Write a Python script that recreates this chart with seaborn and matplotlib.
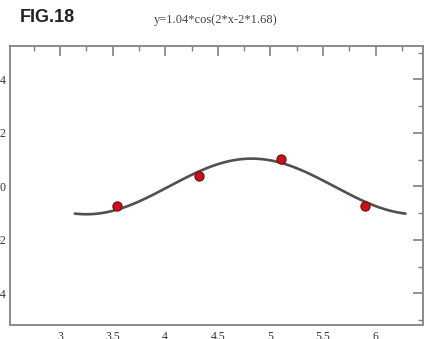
import numpy as np
import matplotlib
matplotlib.use("Agg")
import matplotlib.pyplot as plt
import seaborn as sns
import pandas as pd
from matplotlib.ticker import MultipleLocator, FuncFormatter

# Measured points (red dots)
point_x = [3.54, 4.32, 5.10, 5.90]
point_y = [-0.72, 0.38, 1.02, -0.72]

# Fit parameters, as printed in the title: y = A*cos(w*x - w*phi)
amp = 1.04
freq = 2.0
phase = 1.68
curve_start, curve_end = np.pi, 2 * np.pi

sns.set_theme(style="white")
plt.rcParams['font.family'] = ['Liberation Serif', 'DejaVu Serif']

xs = np.linspace(curve_start, curve_end, 300)
curve = pd.DataFrame({'x': xs, 'y': amp * np.cos(freq * xs - freq * phase)})
points = pd.DataFrame({'x': point_x, 'y': point_y})

fig = plt.figure(figsize=(4.25, 3.39), dpi=100)
ax = fig.add_axes([10 / 425, 1 - 325 / 339, 413 / 425, 279 / 339])

sns.lineplot(data=curve, x='x', y='y', ax=ax, color='#505050', linewidth=1.9)
sns.scatterplot(data=points, x='x', y='y', ax=ax, color='#c8101e',
                edgecolor='#7a0a10', linewidth=0.8, s=44, zorder=3)

ax.set_xlim(2.525, 6.45)
ax.set_ylim(-5.18, 5.25)
ax.set_xlabel('')
ax.set_ylabel('')

ax.xaxis.set_major_locator(MultipleLocator(0.5))
ax.xaxis.set_minor_locator(MultipleLocator(0.25))
ax.yaxis.set_major_locator(MultipleLocator(2))
ax.yaxis.set_minor_locator(MultipleLocator(1))
ax.xaxis.set_major_formatter(FuncFormatter(lambda v, p: f"{v:g}"))
ax.yaxis.set_major_formatter(FuncFormatter(lambda v, p: f"{v:g}"))

ax.tick_params(which='both', direction='in', top=True, right=True,
               color='#808080', labelsize=8.5, labelcolor='#333333')
ax.tick_params(which='major', length=7, width=1.2)
ax.tick_params(which='minor', length=3.5, width=1.0)
ax.tick_params(axis='y', pad=3)
ax.tick_params(axis='x', pad=4.5)

for sp in ax.spines.values():
    sp.set_color('#8a8a8a')
    sp.set_linewidth(1.4)

fig.text(20 / 425, 1 - 18 / 339, 'FIG.18', fontsize=13, fontweight='bold',
         family=['Liberation Sans', 'DejaVu Sans'], color='#222222', va='center', ha='left')
fig.text(216 / 425, 1 - 20 / 339, 'y=1.04*cos(2*x-2*1.68)', fontsize=9,
         color='#444444', va='center', ha='center')

plt.savefig('out.png', dpi=100)
plt.close()
